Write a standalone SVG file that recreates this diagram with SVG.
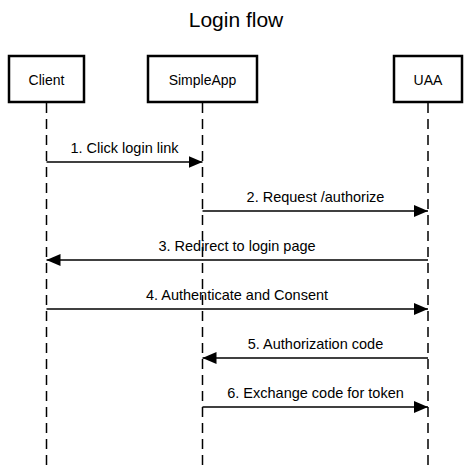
<svg xmlns="http://www.w3.org/2000/svg" width="471" height="469" viewBox="0 0 471 469">
<style>
  text { font-family: "Liberation Sans", Arial, sans-serif; fill: #000; }
  .title { font-size: 21px; text-anchor: middle; }
  .node rect { fill: #fff; stroke: #000; stroke-width: 2.5; }
  .node text { font-size: 14px; text-anchor: middle; }
  .life { stroke: #000; stroke-width: 1.5; stroke-dasharray: 10 6; fill: none; }
  .msg line { stroke: #000; stroke-width: 1.5; marker-end: url(#arrow); }
  .msg text { font-size: 14.5px; text-anchor: middle; }
</style>
<defs>
  <marker id="arrow" markerUnits="userSpaceOnUse" markerWidth="14" markerHeight="12" refX="14" refY="6" orient="auto">
    <path d="M0,0 L14,6 L0,12 Z" fill="#000"/>
  </marker>
</defs>
<rect width="471" height="469" fill="#fff"/>
<text class="title" x="236" y="27">Login flow</text>
<g id="lifelines">
  <line class="life" x1="46.5" y1="103" x2="46.5" y2="469"/>
  <line class="life" x1="202.5" y1="103" x2="202.5" y2="469"/>
  <line class="life" x1="428" y1="103" x2="428" y2="469"/>
</g>
<g id="client" class="node">
  <rect x="9" y="56" width="75" height="46"/>
  <text x="46.5" y="85">Client</text>
</g>
<g id="simpleapp" class="node">
  <rect x="148" y="56" width="109" height="46"/>
  <text x="202.5" y="85">SimpleApp</text>
</g>
<g id="uaa" class="node">
  <rect x="394" y="56" width="68" height="46"/>
  <text x="428" y="85">UAA</text>
</g>
<g id="connectors" class="msg">
  <line x1="46.5" y1="162" x2="202.5" y2="162"/>
  <text x="124.5" y="153">1. Click login link</text>
  <line x1="202.5" y1="211" x2="428" y2="211"/>
  <text x="315.5" y="202">2. Request /authorize</text>
  <line x1="428" y1="260" x2="46.5" y2="260"/>
  <text x="237" y="251">3. Redirect to login page</text>
  <line x1="46.5" y1="309" x2="428" y2="309"/>
  <text x="237" y="300">4. Authenticate and Consent</text>
  <line x1="428" y1="358" x2="202.5" y2="358"/>
  <text x="315.5" y="349">5. Authorization code</text>
  <line x1="202.5" y1="407" x2="428" y2="407"/>
  <text x="315.5" y="398">6. Exchange code for token</text>
</g>
</svg>
